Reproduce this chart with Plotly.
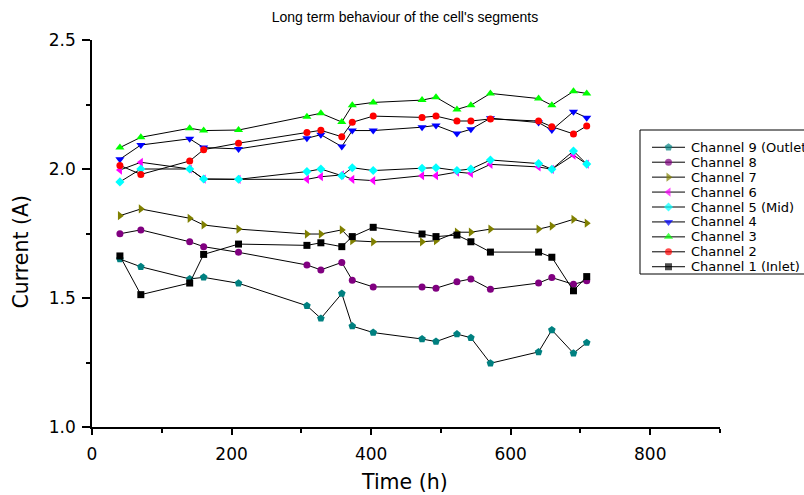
import plotly.graph_objects as go

# Figure size and plot-area placement (pixels)
W, H = 804, 495
PX0, PX1, PY0, PY1 = 92, 720, 40, 427

FONT = "DejaVu Sans"
TITLE_FONT = "Liberation Sans"

# Measurement times (h)
time_h = [40, 70, 140, 160, 210, 308, 328, 358, 373, 403,
          473, 493, 523, 543, 571, 640, 659, 690, 709]

# Current of each segment (A)
ch9 = [1.651, 1.621, 1.574, 1.580, 1.557, 1.470, 1.421, 1.517, 1.391, 1.366,
       1.341, 1.331, 1.360, 1.346, 1.247, 1.291, 1.376, 1.286, 1.327]
ch8 = [1.749, 1.764, 1.718, 1.699, 1.677, 1.628, 1.609, 1.638, 1.569, 1.543,
       1.543, 1.538, 1.563, 1.574, 1.534, 1.558, 1.579, 1.553, 1.567]
ch7 = [1.819, 1.845, 1.809, 1.783, 1.767, 1.748, 1.748, 1.764, 1.722, 1.718,
       1.718, 1.722, 1.755, 1.755, 1.767, 1.767, 1.779, 1.805, 1.790]
ch6 = [1.996, 2.026, 2.000, 1.961, 1.960, 1.960, 1.970, 1.977, 1.960, 1.955,
       1.974, 1.974, 1.988, 1.983, 2.018, 2.008, 1.999, 2.054, 2.019]
ch5 = [1.950, 2.000, 2.000, 1.961, 1.960, 1.990, 2.000, 1.974, 2.005, 1.994,
       2.003, 2.005, 1.994, 2.000, 2.035, 2.021, 1.999, 2.070, 2.019]
ch4 = [2.038, 2.093, 2.117, 2.083, 2.078, 2.119, 2.133, 2.087, 2.149, 2.149,
       2.162, 2.169, 2.138, 2.154, 2.197, 2.180, 2.151, 2.222, 2.199]
ch3 = [2.083, 2.123, 2.158, 2.149, 2.151, 2.203, 2.216, 2.182, 2.247, 2.258,
       2.267, 2.278, 2.231, 2.247, 2.293, 2.273, 2.247, 2.301, 2.293]
ch2 = [2.014, 1.979, 2.031, 2.075, 2.100, 2.141, 2.150, 2.125, 2.181, 2.205,
       2.200, 2.205, 2.186, 2.186, 2.194, 2.186, 2.164, 2.136, 2.167]
ch1 = [1.663, 1.513, 1.558, 1.669, 1.709, 1.704, 1.714, 1.699, 1.738, 1.774,
       1.748, 1.738, 1.744, 1.718, 1.678, 1.678, 1.658, 1.528, 1.583]

channel_names = ["Channel 9 (Outlet)", "Channel 8", "Channel 7", "Channel 6",
                 "Channel 5 (Mid)", "Channel 4", "Channel 3", "Channel 2",
                 "Channel 1 (Inlet)"]
series = [ch9, ch8, ch7, ch6, ch5, ch4, ch3, ch2, ch1]
colors = ["#008080", "#800080", "#808000", "#FF00FF", "#00FFFF",
          "#0000FF", "#00FF00", "#FF0000", "#000000"]
symbols = ["pentagon", "circle", "triangle-right", "triangle-left", "diamond",
           "triangle-down", "triangle-up", "circle", "square"]
sizes = [8, 7, 8, 8, 7, 8, 8, 7, 7]

fig = go.Figure()

for name, vals, col, sym, sz in zip(channel_names, series, colors, symbols, sizes):
    fig.add_trace(go.Scatter(
        x=time_h, y=vals, name=name, mode="lines+markers",
        line=dict(color="black", width=1),
        marker=dict(symbol=sym, size=sz, color=col, line=dict(width=0)),
        showlegend=False, xaxis="x", yaxis="y",
    ))

# Hand-drawn legend on a hidden overlay axis pair: one row per channel
for i, (name, col, sym, sz) in enumerate(zip(channel_names, colors, symbols, sizes)):
    fig.add_trace(go.Scatter(
        x=[0, 0.5, 1], y=[i, i, i], mode="lines+markers",
        line=dict(color="black", width=1),
        marker=dict(symbol=sym, size=[0, sz, 0], color=col, line=dict(width=0)),
        showlegend=False, hoverinfo="skip", xaxis="x2", yaxis="y2",
    ))
    fig.add_annotation(
        x=1, y=i, xref="x2", yref="y2", text=name, showarrow=False,
        xanchor="left", yanchor="middle", xshift=4,
        font=dict(family=FONT, size=13, color="black"),
    )

# legend frame
fig.add_shape(type="rect", xref="paper", yref="paper",
              x0=640 / W, x1=1.05, y0=1 - 274 / H, y1=1 - 130 / H,
              line=dict(color="black", width=1), fillcolor="rgba(0,0,0,0)")

# axis titles
fig.add_annotation(x=405 / W, y=1 - 482 / H, xref="paper", yref="paper",
                   text="Time (h)", showarrow=False, xanchor="center", yanchor="middle",
                   font=dict(family=FONT, size=20.5, color="black"))
fig.add_annotation(x=20.5 / W, y=1 - 252 / H, xref="paper", yref="paper",
                   text="Current (A)", showarrow=False, textangle=-90,
                   xanchor="center", yanchor="middle",
                   font=dict(family=FONT, size=20.5, color="black"))

axis_common = dict(
    showline=True, linecolor="black", linewidth=1.5,
    ticks="outside", tickcolor="black", tickwidth=1.5,
    showgrid=False, zeroline=False, automargin=False,
    tickfont=dict(family=FONT, size=17, color="black"),
)

fig.update_layout(
    width=W, height=H,
    margin=dict(l=0, r=0, t=0, b=0, pad=0),
    paper_bgcolor="white", plot_bgcolor="white",
    title=dict(text="Long term behaviour of the cell's segments",
               x=405 / W, y=1 - 17 / H, xanchor="center", yanchor="middle",
               font=dict(family=TITLE_FONT, size=14, color="black")),
    xaxis=dict(domain=[PX0 / W, PX1 / W], range=[0, 900], tick0=0, dtick=200,
               ticklen=6, ticklabelstandoff=5, anchor="y",
               minor=dict(dtick=100, ticks="outside", ticklen=4,
                          tickwidth=1.5, tickcolor="black"),
               **axis_common),
    yaxis=dict(domain=[1 - PY1 / H, 1 - PY0 / H], range=[1.0, 2.5], tick0=1.0,
               dtick=0.5, tickformat=".1f", ticklen=8, ticklabelstandoff=3,
               anchor="x",
               minor=dict(dtick=0.25, ticks="outside", ticklen=4,
                          tickwidth=1.5, tickcolor="black"),
               **axis_common),
    xaxis2=dict(domain=[652 / W, 685 / W], range=[0, 1], visible=False,
                anchor="y2", fixedrange=True),
    yaxis2=dict(domain=[1 - 274.2 / H, 1 - 139.8 / H], range=[8.5, -0.5],
                visible=False, anchor="x2", fixedrange=True),
    showlegend=False,
)

fig.write_html("out.html")
